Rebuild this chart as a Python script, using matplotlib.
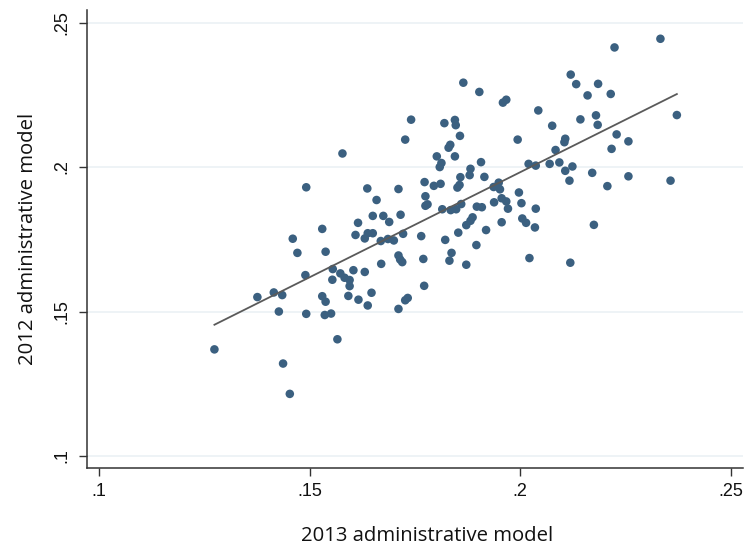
import numpy as np
import matplotlib
matplotlib.use('Agg')
import matplotlib.pyplot as plt

# 2013 model (x) vs 2012 model (y), one value per unit
admin_2013 = [
    0.1274, 0.1376, 0.1415, 0.1435, 0.1427, 0.1437, 0.1453, 0.1460, 0.1471, 0.1492,
    0.1490, 0.1492, 0.1530, 0.1538, 0.1530, 0.1538, 0.1536, 0.1551, 0.1555, 0.1554,
    0.1566, 0.1578, 0.1573, 0.1583, 0.1595, 0.1595, 0.1592, 0.1604, 0.1615, 0.1609,
    0.1631, 0.1638, 0.1631, 0.1616, 0.1637, 0.1638, 0.1650, 0.1647, 0.1865, 0.1903,
    0.1959, 0.1967, 0.2043, 0.1741, 0.1727, 0.1820, 0.1845, 0.1847, 0.1857, 0.1994,
    0.1834, 0.1830, 0.1802, 0.1845, 0.1813, 0.1809, 0.1907, 0.1882, 0.1880, 0.1858,
    0.1915, 0.2020, 0.2037, 0.1711, 0.1773, 0.1795, 0.1811, 0.1856, 0.1851, 0.1937,
    0.1949, 0.1952, 0.1659, 0.1775, 0.1997, 0.1956, 0.1967, 0.1938, 0.2003, 0.1775,
    0.1780, 0.1815, 0.1860, 0.1897, 0.1909, 0.1971, 0.2037, 0.1835, 0.1848, 0.1675,
    0.1689, 0.1716, 0.1650, 0.1669, 0.1686, 0.1700, 0.1722, 0.1765, 0.1822, 0.1853,
    0.1872, 0.1882, 0.1887, 0.1919, 0.1956, 0.2005, 0.2014, 0.2035, 0.1896, 0.1837,
    0.1832, 0.1872, 0.1770, 0.1711, 0.1715, 0.1720, 0.1670, 0.1772, 0.1727, 0.1733,
    0.1711, 0.2022, 0.2333, 0.2224, 0.2120, 0.2133, 0.2185, 0.2160, 0.2215, 0.2076,
    0.2143, 0.2180, 0.2184, 0.2372, 0.2229, 0.2257, 0.2217, 0.2107, 0.2105, 0.2084,
    0.2070, 0.2093, 0.2107, 0.2124, 0.2171, 0.2117, 0.2207, 0.2257, 0.2357, 0.2175,
    0.2119,
]
admin_2012 = [
    0.1369, 0.1550, 0.1566, 0.1557, 0.1500, 0.1320, 0.1215, 0.1752, 0.1703, 0.1930,
    0.1626, 0.1492, 0.1786, 0.1707, 0.1553, 0.1534, 0.1488, 0.1493, 0.1647, 0.1610,
    0.1404, 0.2047, 0.1632, 0.1617, 0.1609, 0.1588, 0.1554, 0.1643, 0.1807, 0.1765,
    0.1753, 0.1771, 0.1637, 0.1541, 0.1926, 0.1521, 0.1831, 0.1565, 0.2292, 0.2260,
    0.2223, 0.2233, 0.2196, 0.2164, 0.2095, 0.2152, 0.2163, 0.2145, 0.2108, 0.2095,
    0.2077, 0.2067, 0.2037, 0.2037, 0.2014, 0.2000, 0.2017, 0.1994, 0.1972, 0.1965,
    0.1966, 0.2011, 0.2005, 0.1924, 0.1948, 0.1935, 0.1942, 0.1938, 0.1929, 0.1931,
    0.1946, 0.1923, 0.1886, 0.1899, 0.1912, 0.1892, 0.1881, 0.1878, 0.1875, 0.1866,
    0.1871, 0.1854, 0.1872, 0.1863, 0.1861, 0.1856, 0.1856, 0.1851, 0.1854, 0.1831,
    0.1810, 0.1835, 0.1771, 0.1744, 0.1751, 0.1746, 0.1769, 0.1761, 0.1748, 0.1773,
    0.1799, 0.1814, 0.1826, 0.1782, 0.1809, 0.1822, 0.1807, 0.1791, 0.1730, 0.1703,
    0.1676, 0.1662, 0.1682, 0.1694, 0.1680, 0.1671, 0.1665, 0.1589, 0.1539, 0.1547,
    0.1509, 0.1685, 0.2444, 0.2414, 0.2320, 0.2287, 0.2288, 0.2248, 0.2253, 0.2143,
    0.2165, 0.2179, 0.2146, 0.2180, 0.2113, 0.2089, 0.2063, 0.2098, 0.2086, 0.2059,
    0.2011, 0.2016, 0.1987, 0.2002, 0.1980, 0.1953, 0.1934, 0.1968, 0.1953, 0.1800,
    0.1669,
]
ticks = [0.1, 0.15, 0.2, 0.25]
tick_labels = ['.1', '.15', '.2', '.25']

x = np.array(admin_2013)
y = np.array(admin_2012)

fig = plt.figure(figsize=(7.45, 5.49), dpi=100)
ax = fig.add_axes([0.1172, 0.1475, 0.8798, 0.8343])

for t in ticks:
    ax.axhline(t, color='#eaf0f4', lw=1.1, zorder=0)

ax.scatter(x, y, s=38, color='#3b6080', edgecolors='none', zorder=3)

# linear fit over the observed x range
slope, intercept = np.polyfit(x, y, 1)
xs = np.array([x.min(), x.max()])
ax.plot(xs, intercept + slope * xs, color='#5a5a5a', lw=1.3, zorder=4)

ax.set_xlim(0.09722, 0.25285)
ax.set_ylim(0.09584, 0.25436)
ax.set_xticks(ticks)
ax.set_xticklabels(tick_labels)
ax.set_yticks(ticks)
ax.set_yticklabels(tick_labels, rotation=90, va='center')

for side in ['top', 'right']:
    ax.spines[side].set_visible(False)
for side in ['left', 'bottom']:
    ax.spines[side].set_color('#333333')
    ax.spines[side].set_linewidth(1.1)

ax.tick_params(axis='both', direction='out', length=6, width=1.0, color='#333333',
               labelsize=13, labelcolor='#111111')
ax.tick_params(axis='x', pad=5)
ax.tick_params(axis='y', pad=6)
for lab in ax.get_xticklabels() + ax.get_yticklabels():
    lab.set_family('Liberation Sans')

ax.set_xlabel('2013 administrative model', fontsize=14.6, family='Open Sans',
              color='#111111')
ax.xaxis.set_label_coords(0.518, -0.127)
ax.set_ylabel('2012 administrative model', fontsize=14.6, family='Open Sans',
              color='#111111', labelpad=11)

fig.savefig('out.png', dpi=100)
